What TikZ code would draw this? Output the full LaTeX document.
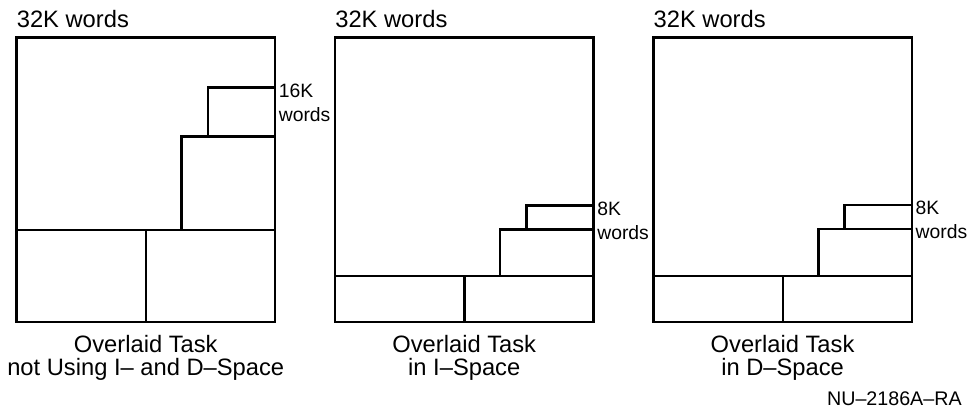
\documentclass[tikz,border=0pt]{standalone}
\usepackage{fontspec}
\setmainfont{Liberation Sans}
\usetikzlibrary{positioning}
\tikzset{
  memline/.style={line width=1.4pt, line cap=rect},
  headlbl/.style={font=\fontsize{13.5}{15}\selectfont, anchor=base west, inner sep=0pt},
  caplbl/.style={font=\fontsize{13.5}{13.6}\selectfont, align=center, anchor=north, inner sep=0pt},
  sizelbl/.style={font=\fontsize{11}{13.6}\selectfont, align=left, anchor=north west, inner sep=0pt},
}
\begin{document}
\begin{tikzpicture}[x=0.02cm, y=-0.02cm]
  \useasboundingbox (0,0) rectangle (969,410);
  % one panel per address space layout
  \foreach \L/\D/\Ya/\Yb/\sz/\sub/\id in {16.5/230/136.7/87.3/16K/{not Using I-- and D--Space}/a,
      335/276/229.3/205.7/8K/{in I--Space}/b,
      653.3/276/229/205/8K/{in D--Space}/c}{
    \begin{scope}[shift={(\L,0)}]
      \draw[memline] (0,37.5) rectangle (258.5,322);
      \draw[memline] (0,\D) -- (258.5,\D);
      \draw[memline] (129.5,\D) -- (129.5,322);
      \draw[memline] (165,\D) |- (258.5,\Ya);
      \draw[memline] (191.3,\Ya) |- (258.5,\Yb);
      \node[headlbl] (head\id) at (0,27) {32K words};
      \node[sizelbl] (size\id) at (262,\Yb-4) {\sz\\words};
      \node[caplbl] (cap\id) at (129.25,334.5) {Overlaid Task\\\sub};
    \end{scope}
  }
  \node[font=\fontsize{11.2}{12}\selectfont, anchor=base east, inner sep=0pt] (tag) at (962,405) {NU--2186A--RA};
\end{tikzpicture}
\end{document}
